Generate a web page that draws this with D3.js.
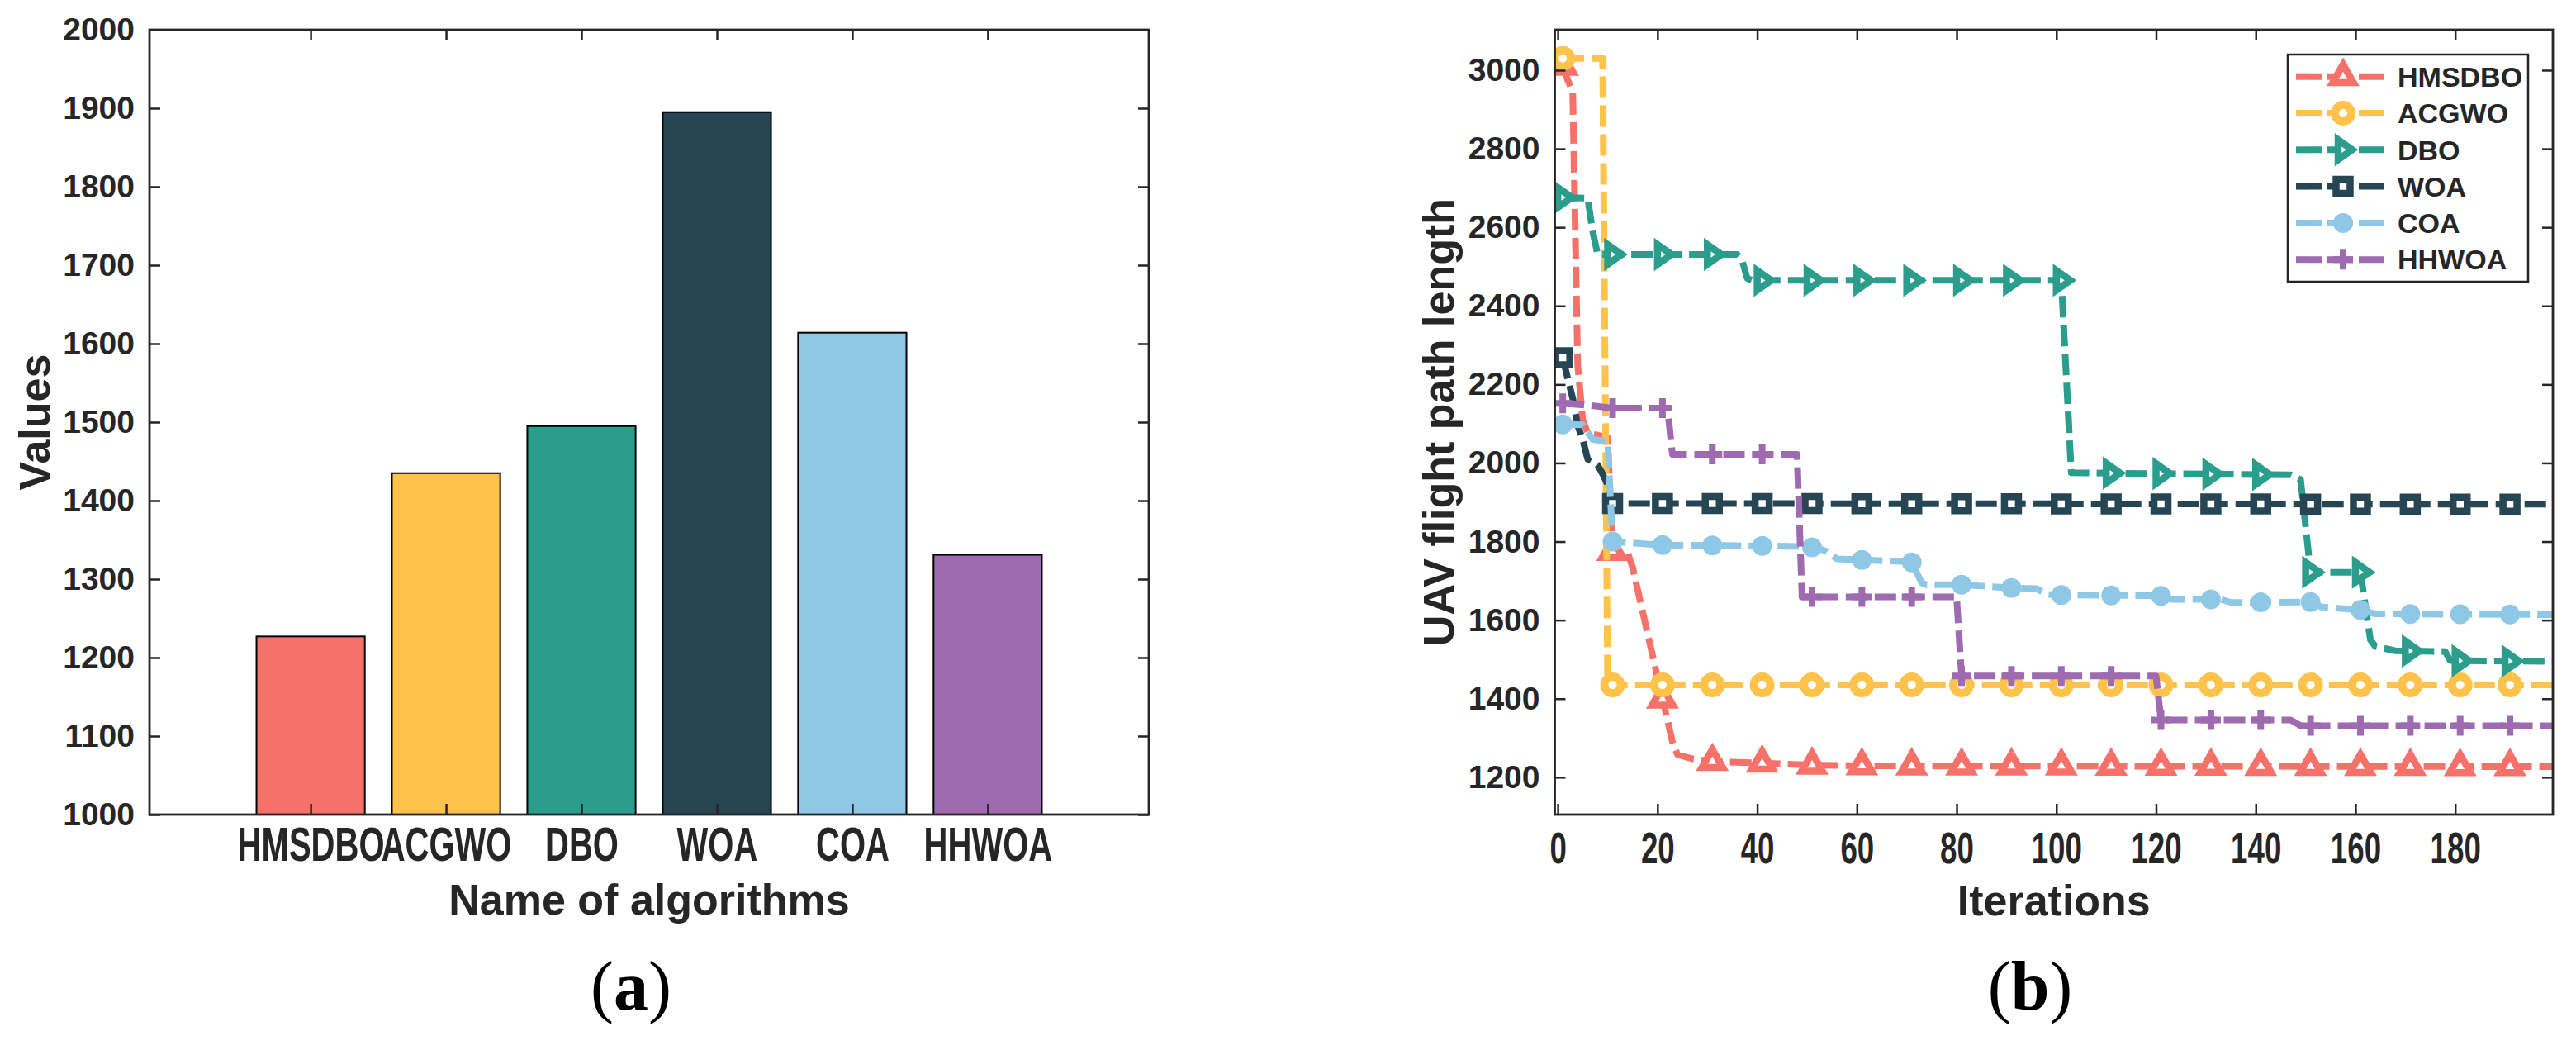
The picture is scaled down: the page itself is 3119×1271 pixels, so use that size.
<!DOCTYPE html>
<html>
<head>
<meta charset="utf-8">
<script src="https://cdn.jsdelivr.net/npm/d3@7"></script>
<style>
  body { margin: 0; background: #fff; }
  svg text { font-family: "Liberation Sans", Arial, Helvetica, sans-serif; font-weight: bold; fill: #262626; }
</style>
</head>
<body>
<script>
const algorithms = ['HMSDBO', 'ACGWO', 'DBO', 'WOA', 'COA', 'HHWOA'];
const colors = ['#F6716A', '#FFC24A', '#2A9D8C', '#264653', '#8FC8E6', '#9E6AB0'];
const markers = ['triUp', 'circle', 'triRight', 'square', 'dot', 'plus'];

// (a) best path length per algorithm
const bestValues = [1227, 1435, 1495, 1895, 1614, 1331];
const valueTicks = [1000, 1100, 1200, 1300, 1400, 1500, 1600, 1700, 1800, 1900, 2000];

// (b) convergence curves, [iteration, length] at the corners of each curve
const hmsdboCurve = [[1, 3010], [2, 2975], [3, 2945], [4, 2250], [5, 2110], [6, 2077], [10, 2065], [11, 1775], [14, 1772], [15, 1735], [21, 1399], [22, 1346], [23, 1290], [24, 1258], [27, 1247], [31, 1240], [41, 1236], [51, 1231], [61, 1229], [200, 1227]];
const acgwoCurve = [[1, 3030], [9, 3030], [10, 1435], [200, 1435]];
const dboCurve = [[1, 2676], [6, 2674], [7, 2590], [8, 2531], [36, 2531], [37, 2515], [38, 2470], [39, 2465], [101, 2465], [103, 1975], [147, 1970], [149, 1958], [151, 1722], [161, 1722], [163, 1550], [164, 1533], [168, 1522], [178, 1520], [179, 1497], [200, 1495]];
const woaCurve = [[1, 2268], [2, 2215], [3, 2165], [4, 2095], [5, 2060], [6, 2010], [8, 1995], [9, 1972], [10, 1945], [11, 1897], [200, 1895]];
const coaCurve = [[1, 2098], [5, 2097], [7, 2060], [10, 2055], [11, 1800], [21, 1791], [41, 1789], [50, 1787], [52, 1784], [54, 1775], [56, 1756], [70, 1749], [71, 1747], [73, 1695], [74, 1690], [81, 1690], [91, 1682], [96, 1680], [98, 1666], [101, 1664], [121, 1662], [123, 1653], [133, 1653], [135, 1645], [151, 1646], [153, 1634], [161, 1626], [164, 1616], [200, 1614]];
const hhwoaCurve = [[1, 2152], [6, 2147], [11, 2140], [22, 2140], [23, 2022], [48, 2022], [49, 1659], [80, 1659], [81, 1458], [120, 1458], [121, 1346], [147, 1346], [149, 1331], [200, 1331]];
const curves = [hmsdboCurve, acgwoCurve, dboCurve, woaCurve, coaCurve, hhwoaCurve];
const markerIters = [1, 11, 21, 31, 41, 51, 61, 71, 81, 91, 101, 111, 121, 131, 141, 151, 161, 171, 181, 191];
const iterTicks = [0, 20, 40, 60, 80, 100, 120, 140, 160, 180];
const lengthTicks = [1200, 1400, 1600, 1800, 2000, 2200, 2400, 2600, 2800, 3000];

const W = 3119, H = 1271;
const plotTop = 36, plotBottom = 986;
const panelA = { left: 181, right: 1391 };
const panelB = { left: 1882.5, right: 3091 };
const axisColor = '#262626';
const lineWidth = 8;
const dash = '26,9';

const svg = d3.select('body').append('svg')
  .attr('width', W)
  .attr('height', H)
  .attr('viewBox', `0 0 ${W} ${H}`);

function styleAxis(g, fontSize) {
  g.select('.domain').remove();
  g.selectAll('.tick line').attr('stroke', axisColor).attr('stroke-width', 2.5);
  g.selectAll('.tick text').attr('font-size', fontSize).attr('fill', axisColor);
}

function frame(left, right) {
  svg.append('rect')
    .attr('x', left).attr('y', plotTop)
    .attr('width', right - left).attr('height', plotBottom - plotTop)
    .attr('fill', 'none')
    .attr('stroke', axisColor)
    .attr('stroke-width', 2.8);
}

// marker shapes, centred on the data point
function markerPath(type) {
  switch (type) {
    case 'triUp': return 'M0,-14.6L12.6,7.3L-12.6,7.3Z';
    case 'triRight': return 'M-6,-12L11,0L-6,12Z';
    case 'square': return 'M-8.5,-8.5H8.5V8.5H-8.5Z';
    case 'plus': return 'M-12,0H12M0,-12V12';
    default: return null;
  }
}

function drawMarker(g, type, color, x, y) {
  if (type === 'circle') {
    g.append('circle').attr('cx', x).attr('cy', y).attr('r', 10)
      .attr('fill', '#fff').attr('stroke', color).attr('stroke-width', 10);
  } else if (type === 'dot') {
    g.append('circle').attr('cx', x).attr('cy', y).attr('r', 12).attr('fill', color);
  } else {
    g.append('path')
      .attr('d', markerPath(type))
      .attr('transform', `translate(${x},${y})`)
      .attr('fill', type === 'plus' ? 'none' : '#fff')
      .attr('stroke', color)
      .attr('stroke-width', type === 'plus' ? 8 : 8.5)
      .attr('stroke-linejoin', 'miter')
      .attr('stroke-miterlimit', 10);
  }
}

// ---------- (a) bar chart ----------
const xA = d3.scaleLinear().domain([-0.19, 7.19]).range([panelA.left, panelA.right]);
const yA = d3.scaleLinear().domain([1000, 2000]).range([plotBottom, plotTop]);

svg.append('g').selectAll('rect')
  .data(bestValues)
  .enter()
  .append('rect')
  .attr('x', (d, i) => xA(i + 1 - 0.4))
  .attr('width', xA(0.8) - xA(0))
  .attr('y', d => yA(d))
  .attr('height', d => yA(1000) - yA(d))
  .attr('fill', (d, i) => colors[i])
  .attr('stroke', '#000')
  .attr('stroke-width', 2);

const catTicks = algorithms.map((d, i) => i + 1);

svg.append('g')
  .attr('transform', `translate(0,${plotBottom})`)
  .call(d3.axisBottom(xA).tickValues(catTicks).tickSize(-13).tickPadding(15)
    .tickFormat((d, i) => algorithms[i]))
  .call(g => styleAxis(g, 58))
  .call(g => g.selectAll('.tick text').attr('transform', 'scale(0.69,1)'));

svg.append('g')
  .attr('transform', `translate(0,${plotTop})`)
  .call(d3.axisTop(xA).tickValues(catTicks).tickSize(-13).tickFormat(''))
  .call(g => styleAxis(g, 0));

svg.append('g')
  .attr('transform', `translate(${panelA.left},0)`)
  .call(d3.axisLeft(yA).tickValues(valueTicks).tickSize(-13).tickPadding(18).tickFormat(d3.format('d')))
  .call(g => styleAxis(g, 39));

svg.append('g')
  .attr('transform', `translate(${panelA.right},0)`)
  .call(d3.axisRight(yA).tickValues(valueTicks).tickSize(-13).tickFormat(''))
  .call(g => styleAxis(g, 0));

frame(panelA.left, panelA.right);

svg.append('text')
  .attr('x', (panelA.left + panelA.right) / 2)
  .attr('y', 1107)
  .attr('text-anchor', 'middle')
  .attr('font-size', 52)
  .text('Name of algorithms');

svg.append('text')
  .attr('transform', `translate(60,${(plotTop + plotBottom) / 2}) rotate(-90)`)
  .attr('text-anchor', 'middle')
  .attr('font-size', 52)
  .text('Values');

// ---------- (b) convergence curves ----------
const xB = d3.scaleLinear().domain([-0.6, 199.6]).range([panelB.left, panelB.right]);
const yB = d3.scaleLinear().domain([1105, 3103]).range([plotBottom, plotTop]);

svg.append('defs').append('clipPath').attr('id', 'clipB')
  .append('rect')
  .attr('x', panelB.left).attr('y', plotTop)
  .attr('width', panelB.right - panelB.left).attr('height', plotBottom - plotTop);

const line = d3.line().x(d => xB(d[0])).y(d => yB(d[1]));

function valueAt(curve, it) {
  for (let k = 1; k < curve.length; k++) {
    const [x0, y0] = curve[k - 1];
    const [x1, y1] = curve[k];
    if (it >= x0 && it <= x1) return y0 + (y1 - y0) * (it - x0) / (x1 - x0);
  }
  return curve[curve.length - 1][1];
}

const plotB = svg.append('g').attr('clip-path', 'url(#clipB)');

curves.forEach((curve, i) => {
  const g = plotB.append('g');
  g.append('path')
    .datum(curve)
    .attr('d', line)
    .attr('fill', 'none')
    .attr('stroke', colors[i])
    .attr('stroke-width', lineWidth)
    .attr('stroke-dasharray', dash)
    .attr('stroke-linejoin', 'round');
  markerIters.forEach(it => drawMarker(g, markers[i], colors[i], xB(it), yB(valueAt(curve, it))));
});

svg.append('g')
  .attr('transform', `translate(0,${plotBottom})`)
  .call(d3.axisBottom(xB).tickValues(iterTicks).tickSize(-13).tickPadding(21))
  .call(g => styleAxis(g, 54))
  .call(g => g.selectAll('.tick text').attr('transform', 'scale(0.68,1)'));

svg.append('g')
  .attr('transform', `translate(0,${plotTop})`)
  .call(d3.axisTop(xB).tickValues(iterTicks).tickSize(-13).tickFormat(''))
  .call(g => styleAxis(g, 0));

svg.append('g')
  .attr('transform', `translate(${panelB.left},0)`)
  .call(d3.axisLeft(yB).tickValues(lengthTicks).tickSize(-13).tickPadding(18).tickFormat(d3.format('d')))
  .call(g => styleAxis(g, 39));

svg.append('g')
  .attr('transform', `translate(${panelB.right},0)`)
  .call(d3.axisRight(yB).tickValues(lengthTicks).tickSize(-13).tickFormat(''))
  .call(g => styleAxis(g, 0));

frame(panelB.left, panelB.right);

svg.append('text')
  .attr('x', (panelB.left + panelB.right) / 2)
  .attr('y', 1108)
  .attr('text-anchor', 'middle')
  .attr('font-size', 52)
  .text('Iterations');

svg.append('text')
  .attr('transform', `translate(1760,${(plotTop + plotBottom) / 2}) rotate(-90)`)
  .attr('text-anchor', 'middle')
  .attr('font-size', 52)
  .text('UAV flight path length');

// legend
const legend = svg.append('g');
legend.append('rect')
  .attr('x', 2770).attr('y', 66)
  .attr('width', 291).attr('height', 275)
  .attr('fill', '#fff')
  .attr('stroke', axisColor)
  .attr('stroke-width', 2.5);

algorithms.forEach((name, i) => {
  const y = 92.7 + i * 44.3;
  const row = legend.append('g');
  row.append('line')
    .attr('x1', 2780).attr('x2', 2893)
    .attr('y1', y).attr('y2', y)
    .attr('stroke', colors[i])
    .attr('stroke-width', lineWidth)
    .attr('stroke-dasharray', '31,7');
  drawMarker(row, markers[i], colors[i], 2837, y);
  row.append('text')
    .attr('x', 2903)
    .attr('y', y)
    .attr('dy', '0.36em')
    .attr('font-size', 34)
    .attr('fill', '#000')
    .text(name);
});

// sub-figure captions
[['a', 764], ['b', 2458]].forEach(([letter, cx]) => {
  const t = svg.append('text')
    .attr('x', cx)
    .attr('y', 1222)
    .attr('text-anchor', 'middle')
    .attr('font-size', 84)
    .style('font-family', '"Liberation Serif", "DejaVu Serif", serif')
    .style('font-weight', 'normal')
    .style('fill', '#000');
  t.append('tspan').text('(');
  t.append('tspan').style('font-weight', 'bold').text(letter);
  t.append('tspan').text(')');
});
</script>
</body>
</html>
